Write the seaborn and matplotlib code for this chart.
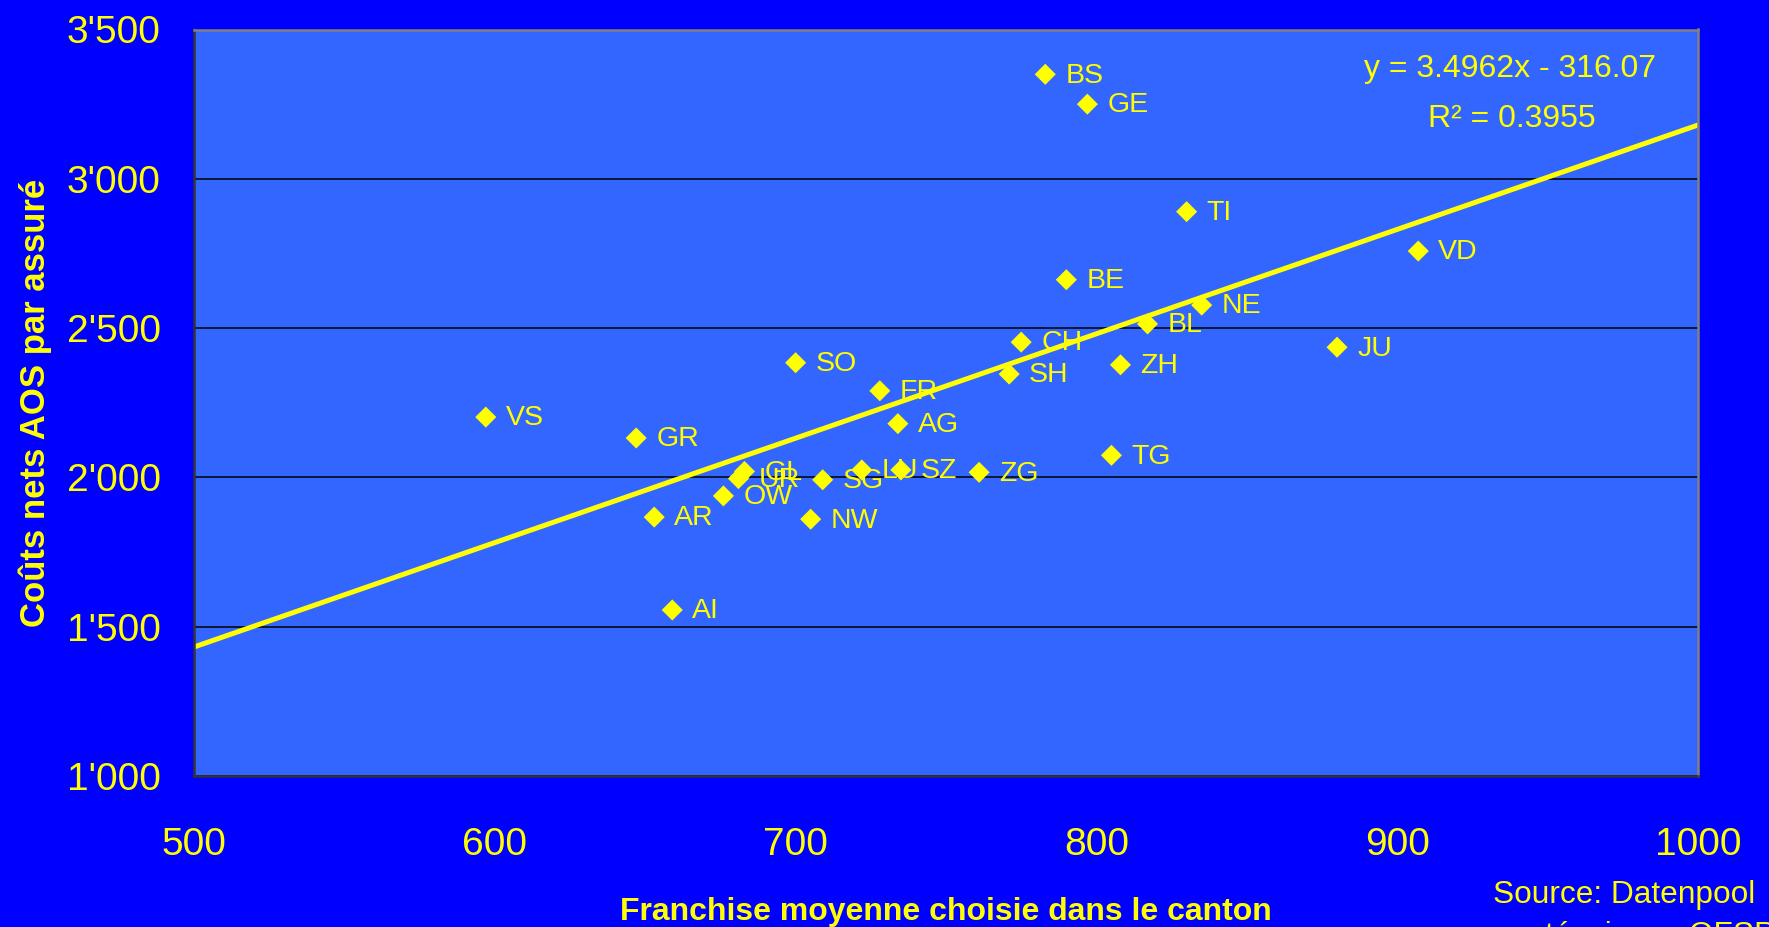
import matplotlib
matplotlib.use("Agg")
import matplotlib.pyplot as plt
import seaborn as sns
import numpy as np
import pandas as pd

# ---- data ----
cantons = ["BS", "GE", "TI", "VD", "BE", "NE", "BL", "CH", "JU", "ZH", "SH", "SO",
           "FR", "VS", "AG", "GR", "TG", "ZG", "LU", "SZ", "GL", "UR", "SG", "OW",
           "AR", "NW", "AI"]
franchise = [783, 797, 830, 907, 790, 835, 817, 775, 880, 808, 771, 700,
             728, 597, 734, 647, 805, 761, 722, 735, 683, 681, 709, 676,
             653, 705, 659]
costs = [3350, 3250, 2890, 2758, 2662, 2577, 2514, 2453, 2436, 2377, 2346, 2384,
         2290, 2202, 2180, 2132, 2074, 2017, 2025, 2025, 2020, 1996, 1992, 1938,
         1867, 1860, 1556]

trend_slope = 3.4962
trend_intercept = -316.07
r_squared = 0.3955
trend_x = [500, 1000]

x_ticks = [500, 600, 700, 800, 900, 1000]
y_ticks = [1000, 1500, 2000, 2500, 3000, 3500]
y_ticklabels = ["1'000", "1'500", "2'000", "2'500", "3'000", "3'500"]

x_label = "Franchise moyenne choisie dans le canton"
y_label = "Coûts nets AOS par assuré"
source_lines = ["Source: Datenpool", "santésuisse - OFSP"]

# ---- style ----
sns.set_theme(style="white")
YEL = "#FFFF00"
plt.rcParams["font.family"] = ["Liberation Sans", "DejaVu Sans"]
narrow = ["Liberation Sans Narrow", "Liberation Sans", "DejaVu Sans"]

W, H = 1769, 927
fig = plt.figure(figsize=(W / 100, H / 100), dpi=100, facecolor="#0000FF")
left, right, top, bottom = 194, 1698, 29.5, 776
ax = fig.add_axes([left / W, 1 - bottom / H, (right - left) / W, (bottom - top) / H])
ax.set_facecolor("#3366FF")

df = pd.DataFrame({"franchise": franchise, "costs": costs, "canton": cantons})

# trend line
tdf = pd.DataFrame({"x": trend_x, "y": [trend_slope * v + trend_intercept for v in trend_x]})
sns.lineplot(data=tdf, x="x", y="y", ax=ax, color=YEL, linewidth=3.6, zorder=2)

sns.scatterplot(data=df, x="franchise", y="costs", ax=ax, marker="D", s=115,
                color=YEL, edgecolor="none", linewidth=0, zorder=3)

for _, r in df.iterrows():
    ax.annotate(r["canton"], (r["franchise"], r["costs"]), xytext=(14.4, -6),
                textcoords="offset points", ha="left", va="baseline",
                fontsize=20.5, color=YEL, zorder=4)

ax.set_xlim(500, 1000)
ax.set_ylim(1000, 3500)
ax.set_xticks(x_ticks)
ax.set_xticklabels([str(v) for v in x_ticks])
ax.set_yticks(y_ticks)
ax.set_yticklabels(y_ticklabels)
ax.tick_params(axis="both", colors="black", labelcolor=YEL, labelsize=28, direction="out")
ax.tick_params(axis="x", length=6, width=1.2, pad=31)
ax.tick_params(axis="y", length=9, width=1.2, pad=15)
ax.set_xlabel("")
ax.set_ylabel("")

ax.yaxis.grid(True, color="#000000", linewidth=1.1, zorder=1)
ax.xaxis.grid(False)
ax.set_axisbelow(True)
for s in ["top", "right"]:
    ax.spines[s].set_color("#808080")
    ax.spines[s].set_linewidth(1.8)
for s in ["left", "bottom"]:
    ax.spines[s].set_color("#333333")
    ax.spines[s].set_linewidth(1.8)

# trend equation
fig.text(1510 / W, 1 - 77 / H, f"y = {trend_slope}x - {trend_intercept * -1:.2f}",
         ha="center", va="baseline", fontsize=23, color=YEL)
fig.text(1512 / W, 1 - 127 / H, f"R² = {r_squared}",
         ha="center", va="baseline", fontsize=23, color=YEL)

# axis titles
fig.text(946 / W, 1 - 912 / H, x_label, ha="center", va="center", fontsize=23,
         fontweight="bold", color=YEL, family=narrow)
fig.text(35 / W, 1 - 403 / H, y_label, ha="center", va="center", fontsize=25,
         fontweight="bold", color=YEL, rotation=90, family=narrow)

# source
fig.text(1493 / W, 1 - 903 / H, source_lines[0], ha="left", va="baseline",
         fontsize=22.8, color=YEL)
fig.text(1494 / W, 1 - 944 / H, source_lines[1], ha="left", va="baseline",
         fontsize=22.8, color=YEL)

fig.savefig("out.png", dpi=100, facecolor=fig.get_facecolor())
